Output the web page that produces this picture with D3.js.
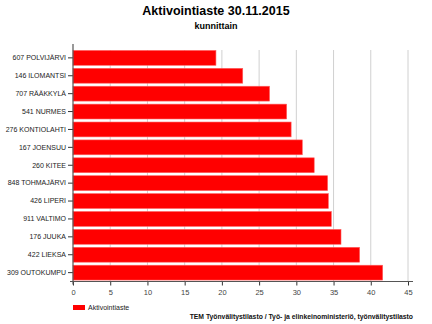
<!DOCTYPE html>
<html><head><meta charset="utf-8">
<script src="https://cdn.jsdelivr.net/npm/d3@7"></script>
<style>body{margin:0;background:#fff}svg{display:block;font-family:"Liberation Sans",Arial,sans-serif}</style>
</head><body><svg id="c" width="432" height="324"></svg>
<script>
const categories = ["607 POLVIJÄRVI","146 ILOMANTSI","707 RÄÄKKYLÄ","541 NURMES","276 KONTIOLAHTI","167 JOENSUU","260 KITEE","848 TOHMAJÄRVI","426 LIPERI","911 VALTIMO","176 JUUKA","422 LIEKSA","309 OUTOKUMPU"];
const values = [19.2,22.8,26.4,28.7,29.3,30.8,32.4,34.2,34.3,34.7,36.0,38.5,41.6];
const xTicks = [0,5,10,15,20,25,30,35,40,45];
const seriesName = "Aktivointiaste";
const title = "Aktivointiaste 30.11.2015";
const subtitle = "kunnittain";
const source = "TEM Työnvälitystilasto / Työ- ja elinkeinoministeriö, työnvälitystilasto";

const svg = d3.select("#c");
const L = 73, R = 408, T = 49, B = 281.5;
const x = d3.scaleLinear().domain([0,45]).range([L,R]);
const y = d3.scaleBand().domain(categories).range([T,B]).paddingInner(0.17).paddingOuter(0.08);

svg.append("text").attr("x",216).attr("y",15).attr("text-anchor","middle")
  .attr("font-size",12.5).attr("font-weight","bold").text(title);
svg.append("text").attr("x",216).attr("y",29).attr("text-anchor","middle")
  .attr("font-size",9).attr("font-weight","bold").text(subtitle);

// grid
svg.append("g").selectAll("line").data(xTicks.filter(d=>d>0)).join("line")
  .attr("x1",d=>x(d)).attr("x2",d=>x(d)).attr("y1",50).attr("y2",B)
  .attr("stroke","#d0d0d0").attr("stroke-width",1);

// bars
svg.append("g").selectAll("rect").data(values).join("rect")
  .attr("x",x(0)).attr("y",(d,i)=>y(categories[i]))
  .attr("width",d=>x(d)-x(0)).attr("height",y.bandwidth())
  .attr("fill","#ff0000").attr("stroke","#ff6060").attr("stroke-width",0.6);

// x axis
const xa = svg.append("g").attr("transform",`translate(0,${B})`)
  .call(d3.axisBottom(x).tickValues(xTicks).tickSize(4).tickPadding(4));
xa.select(".domain").remove();
xa.selectAll("line").attr("stroke","#333");
xa.selectAll("text").attr("font-size",7.5).attr("fill","#444").attr("font-family","Liberation Sans, Arial, sans-serif");
svg.append("line").attr("x1",L-3).attr("x2",413).attr("y1",B).attr("y2",B).attr("stroke","#555").attr("stroke-width",1.2);

// y axis
const ya = svg.append("g").attr("transform",`translate(${L},0)`)
  .call(d3.axisLeft(y).tickSize(5).tickPadding(2));
ya.select(".domain").remove();
ya.selectAll("line").attr("stroke","#333");
ya.selectAll("text").attr("font-size",7).attr("fill","#222").attr("font-family","Liberation Sans, Arial, sans-serif");
svg.append("line").attr("x1",L).attr("x2",L).attr("y1",44).attr("y2",B+3).attr("stroke","#555").attr("stroke-width",1.2);

// legend
svg.append("rect").attr("x",73).attr("y",305).attr("width",12).attr("height",5).attr("fill","#ff0000");
svg.append("text").attr("x",88).attr("y",310).attr("font-size",7).attr("fill","#222").text(seriesName);
svg.append("text").attr("x",413).attr("y",319).attr("text-anchor","end").attr("font-size",6.8).attr("font-weight","bold").attr("fill","#111").text(source);
</script></body></html>
